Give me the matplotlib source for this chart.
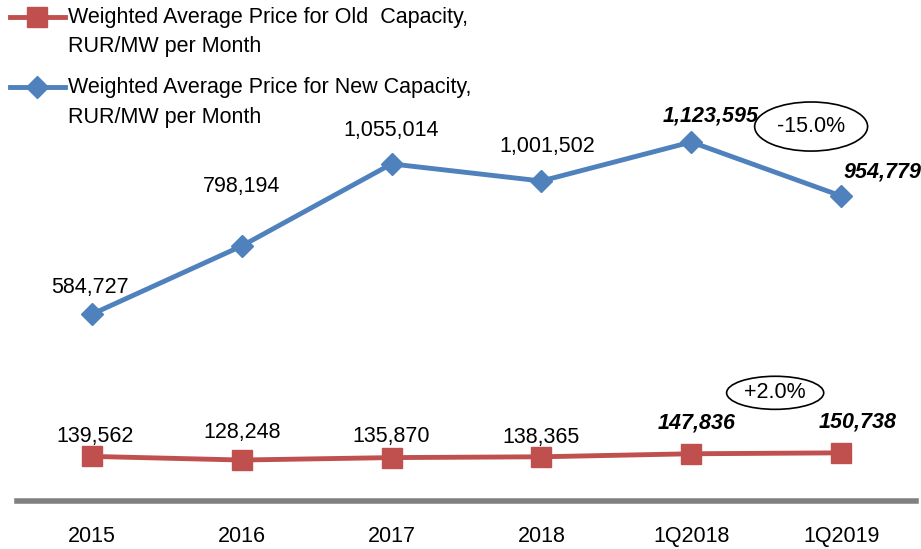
import matplotlib.pyplot as plt
from matplotlib.patches import Ellipse
from matplotlib.lines import Line2D

plt.rcParams['font.family'] = ['Liberation Sans', 'DejaVu Sans']

categories = ['2015', '2016', '2017', '2018', '1Q2018', '1Q2019']
old_price = [139562, 128248, 135870, 138365, 147836, 150738]
new_price = [584727, 798194, 1055014, 1001502, 1123595, 954779]
old_name = ['Weighted Average Price for Old  Capacity,', 'RUR/MW per Month']
new_name = ['Weighted Average Price for New Capacity,', 'RUR/MW per Month']
old_change = '+2.0%'
new_change = '-15.0%'

red = '#C0504D'
blue = '#4F81BD'
fs = 15.5

fig = plt.figure(figsize=(9.21, 5.49), dpi=100)
ax = fig.add_axes([17/921, 1-501/549, 899/921, 501/549])
x = list(range(len(categories)))

ax.plot(x, old_price, color=red, lw=3.5, marker='s', ms=14, clip_on=False)
ax.plot(x, new_price, color=blue, lw=3.5, marker='D', ms=11, clip_on=False)

ax.set_xlim(-0.5, 5.5)
ax.set_ylim(0, 1568000)
for s in ['top', 'right', 'left']:
    ax.spines[s].set_visible(False)
ax.spines['bottom'].set_color('#808080')
ax.spines['bottom'].set_linewidth(4)
ax.set_yticks([])
ax.set_xticks(x)
ax.set_xticklabels(categories, fontsize=fs)
ax.tick_params(axis='x', length=0, pad=18)

# label offsets (points)
new_off = [(-1.5, 19), (0, 43), (0, 24), (4, 25), (14, 19), (30, 17)]
old_off = [(2, 14), (0, 20), (0, 15), (0, 14), (4, 22), (12, 22)]
for i in x:
    kw = dict(fontsize=fs, ha='center', va='center', textcoords='offset points')
    if i >= 4:
        kw.update(fontweight='bold', fontstyle='italic')
    ax.annotate(f'{new_price[i]:,}', (x[i], new_price[i]), xytext=new_off[i], annotation_clip=False, **kw)
    ax.annotate(f'{old_price[i]:,}', (x[i], old_price[i]), xytext=old_off[i], annotation_clip=False, **kw)

# change ellipses
ax.add_patch(Ellipse((4.80, 1172000), 0.754, 153600, fill=False, lw=1.2, ec='black'))
ax.text(4.80, 1172000, new_change, fontsize=fs, ha='center', va='center')
ax.add_patch(Ellipse((4.56, 338600), 0.648, 103500, fill=False, lw=1.2, ec='black'))
ax.text(4.56, 338600, old_change, fontsize=fs, ha='center', va='center')

# legend drawn by hand
H = 549
for col, mk, ms, y0, name in [(red, 's', 14, 17, old_name), (blue, 'D', 11, 87, new_name)]:
    fig.add_artist(Line2D([10/921, 65/921], [1-y0/H]*2, color=col, lw=3.5))
    fig.add_artist(Line2D([37/921], [1-y0/H], color=col, marker=mk, ms=ms, lw=0))
    fig.text(68/921, 1-(y0+1)/H, name[0], fontsize=fs, va='center', ha='left')
    fig.text(68/921, 1-(y0+30)/H, name[1], fontsize=fs, va='center', ha='left')

fig.savefig('out.png', dpi=100)
